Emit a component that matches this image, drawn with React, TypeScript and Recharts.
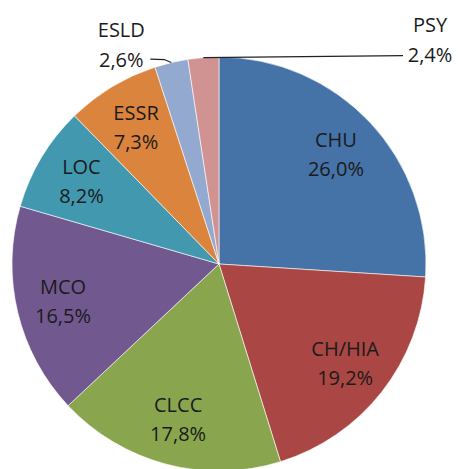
import React from "react"
import { PieChart, Pie, Cell } from "recharts"

const names = ["CHU", "CH/HIA", "CLCC", "MCO", "LOC", "ESSR", "ESLD", "PSY"]
const shares = [26.0, 19.2, 17.8, 16.5, 8.2, 7.3, 2.6, 2.4]
const colors = ["#4572A7", "#AA4643", "#89A54E", "#71588F", "#4198AF", "#DB843D", "#93A9CF", "#D19392"]

const data = names.map((name, i) => ({ name, value: shares[i] }))

const RADIAN = Math.PI / 180
const fmt = (v: number) => v.toFixed(1).replace(".", ",") + "%"
const textStyle = { fontFamily: "'Open Sans', sans-serif", fontSize: 20, fill: "#1b1b1b" }

const renderLabel = (props: any) => {
  const { cx, cy, midAngle, outerRadius, name, value } = props
  const cos = Math.cos(-midAngle * RADIAN)
  const sin = Math.sin(-midAngle * RADIAN)

  if (value < 3) {
    // small slices: outside label with a leader line
    const ex = cx + outerRadius * cos
    const ey = cy + outerRadius * sin
    const right = name === "PSY"
    const lx = right ? cx + outerRadius + 4 : ex - 50
    const ly = ey - 3
    const pts = right
      ? `${ex},${ey} ${lx - 27},${ly + 1}`
      : `${ex},${ey} ${ex - 7},${ey - 3} ${lx + 29},${ey - 3.5}`
    return (
      <g>
        <polyline points={pts} fill="none" stroke="#222" strokeWidth={1.2} />
        <text x={lx} y={ly - 30} textAnchor="middle" dominantBaseline="central" style={textStyle}>
          {name}
        </text>
        <text x={lx} y={ly} textAnchor="middle" dominantBaseline="central" style={textStyle}>
          {fmt(value)}
        </text>
      </g>
    )
  }

  const r = outerRadius * 0.775
  const x = cx + r * cos
  const y = cy + r * sin
  return (
    <g>
      <text x={x} y={y - 14.5} textAnchor="middle" dominantBaseline="central" style={textStyle}>
        {name}
      </text>
      <text x={x} y={y + 14.5} textAnchor="middle" dominantBaseline="central" style={textStyle}>
        {fmt(value)}
      </text>
    </g>
  )
}

export default function App() {
  return (
    <div style={{ width: 458, height: 469, background: "#fff" }}>
      <style>{`body{margin:0}`}</style>
      <PieChart width={458} height={469} margin={{ top: 0, right: 0, bottom: 0, left: 0 }}>
        <Pie
          data={data}
          dataKey="value"
          nameKey="name"
          cx={219}
          cy={264}
          outerRadius={207}
          startAngle={90}
          endAngle={-270}
          stroke="#fff"
          strokeWidth={0.6}
          label={renderLabel}
          labelLine={false}
          isAnimationActive={false}
        >
          {data.map((d, i) => (
            <Cell key={d.name} fill={colors[i]} />
          ))}
        </Pie>
      </PieChart>
    </div>
  )
}
